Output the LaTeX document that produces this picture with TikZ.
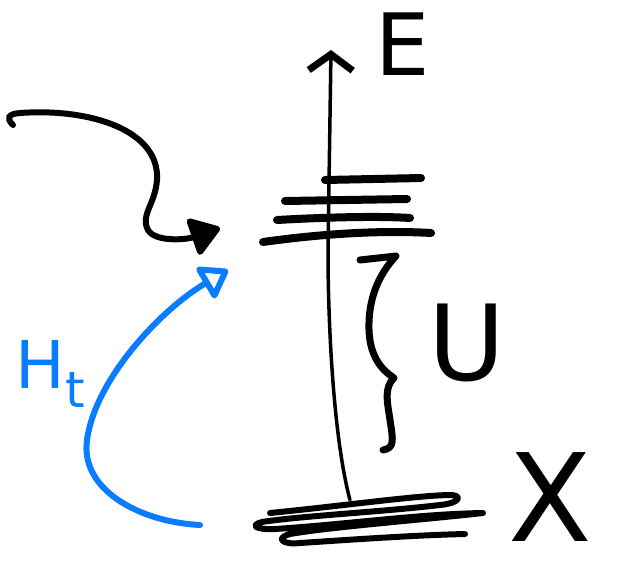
\documentclass[tikz,border=0pt]{standalone}
\usepackage{fontspec}
\setsansfont{DejaVu Sans}
\usepackage{xcolor}
\usetikzlibrary{arrows.meta}
\definecolor{ink}{HTML}{000000}
\definecolor{pen}{HTML}{0A7CFF}

\begin{document}
\begin{tikzpicture}[x=1pt,y=-1pt,
 level/.style={draw=ink,line width=8pt,line cap=round,line join=round},
 axis/.style={draw=ink,line width=3.5pt,line cap=round,-{Straight Barb[line width=7pt,length=16pt,width=44pt]}},
 brace/.style={draw=ink,line width=7pt,line cap=round,line join=round},
 kickarrow/.style={draw=ink,line width=6pt,line cap=round,-{Triangle[length=32pt,width=42pt,round]}},
 pumparrow/.style={draw=pen,line width=6pt,line cap=round,-{Triangle[open,line width=6pt,length=30pt,width=40pt,round]}},
 letter/.style={inner sep=0pt,font=\sffamily\fontsize{#1}{#1}\selectfont}]
 \useasboundingbox (0,0) rectangle (617,571);
 \node[letter=86] (E) at (403,44) {E};
 \node[letter=105] (U) at (467,343) {U};
 \node[letter=122] (X) at (550,497) {X};
 \node[letter=66,text=pen] (Ht) at (50,374) {H\raisebox{-0.3em}{\fontsize{50}{50}\selectfont t}};
 \coordinate (base) at (350,500);
 \coordinate (top) at (331,50);
 \draw[axis] (base) .. controls (334,440) and (328,330) .. (328,250) -- (top);
 \draw[level] (325,180) -- (421,178);
 \draw[level] (285,201) -- (407,199);
 \draw[level] (277,220) .. controls (330,217) and (380,216) .. (410,218);
 \draw[level] (263,242) .. controls (320,234) and (380,230) .. (431,233);
 \draw[level,line width=6pt] (270,513) .. controls (350,505) and (420,495) .. (452,495)
   .. controls (462,496) and (460,503) .. (440,505) .. controls (380,512) and (300,516) .. (262,522)
   .. controls (250,525) and (255,530) .. (275,529) .. controls (350,524) and (420,514) .. (483,513)
   .. controls (420,520) and (330,527) .. (290,534) .. controls (275,538) and (282,545) .. (300,543)
   .. controls (360,539) and (420,535) .. (465,534);
 \draw[brace] (360,260) -- (396,256) .. controls (378,275) and (368,300) .. (369,330)
   .. controls (370,360) and (385,372) .. (394,378) .. controls (383,388) and (388,405) .. (390,420)
   .. controls (393,440) and (395,448) .. (383,450);
 \coordinate (start) at (13,125);
 \coordinate (kick) at (220,228);
 \draw[kickarrow] (start) .. controls (6,118) and (8,114) .. (20,113)
   .. controls (90,108) and (160,130) .. (157,180) .. controls (155,205) and (140,215) .. (148,230)
   .. controls (155,242) and (185,240) .. (kick);
 \coordinate (src) at (200,525);
 \coordinate (hit) at (228,270);
 \draw[pumparrow] (src) .. controls (140,522) and (80,490) .. (87,440)
   .. controls (95,380) and (160,310) .. (hit);
\end{tikzpicture}
\end{document}
